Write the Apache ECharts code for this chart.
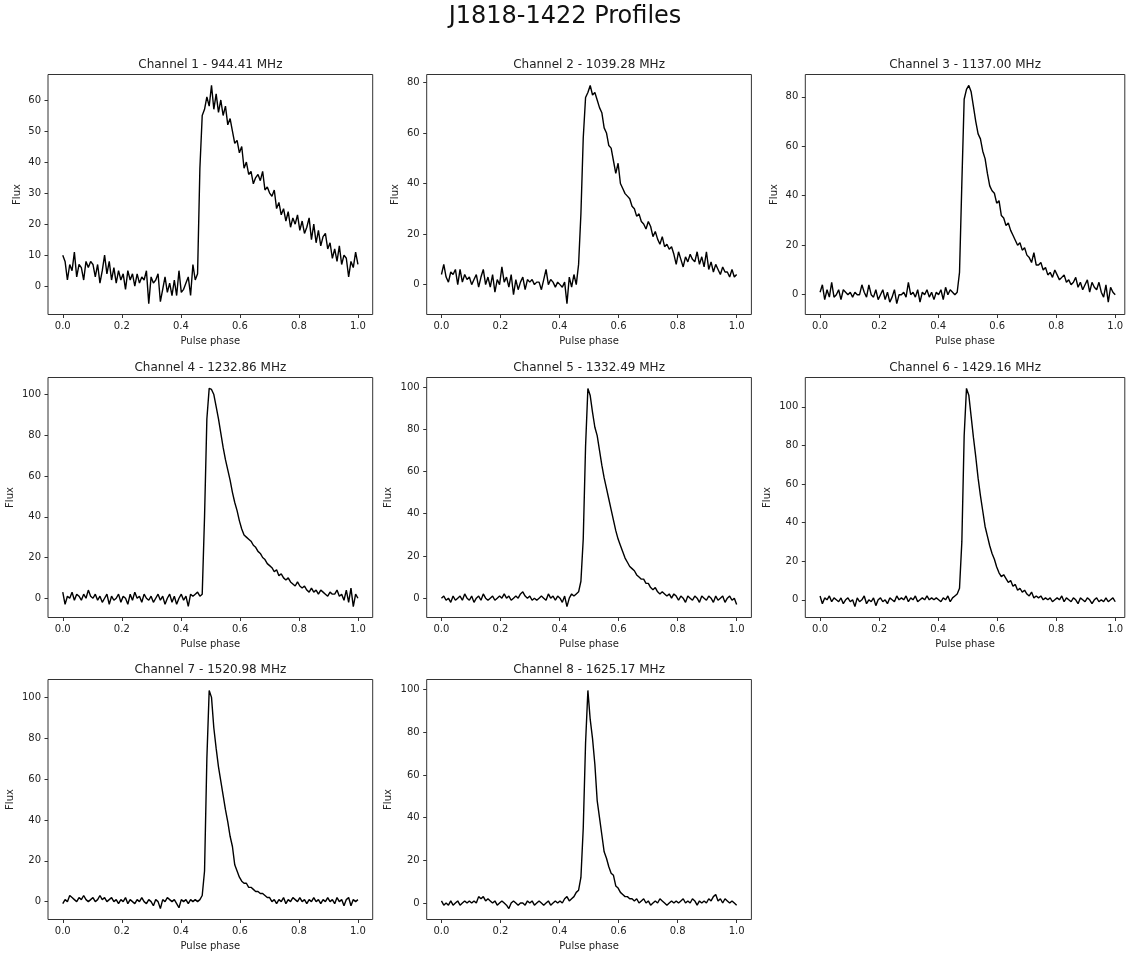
<!DOCTYPE html>
<html>
<head>
<meta charset="utf-8">
<title>J1818-1422 Profiles</title>
<script src="https://cdn.jsdelivr.net/npm/echarts@6/dist/echarts.min.js"></script>
<style>
    html, body { margin: 0; padding: 0; background: #fff; }
    #main { width: 1126px; height: 956px; }
</style>
</head>
<body>
<div id="main"></div>
<script>
// 通道标题
var channelNames = [
    "Channel 1 - 944.41 MHz",
    "Channel 2 - 1039.28 MHz",
    "Channel 3 - 1137.00 MHz",
    "Channel 4 - 1232.86 MHz",
    "Channel 5 - 1332.49 MHz",
    "Channel 6 - 1429.16 MHz",
    "Channel 7 - 1520.98 MHz",
    "Channel 8 - 1625.17 MHz"
];

// 每个通道 128 个相位 bin 的流量 (从图上读的)
var flux1 = [
    10, 8, 2, 7, 5, 11, 3, 7, 6, 2,
    8, 6, 8, 7, 3, 7, 1, 5, 10, 4,
    8, 2, 6, 1, 5, 2, 4, -1, 5, 2,
    4, 0, 4, 1, 3, 2, 5, -5.6, 3, 1,
    2, 4, -5, -1, 3, -2, 1, -3, 2, -3,
    5, -2, -1, 1, 3, -3, 7, 2, 4, 38,
    55, 57, 61, 58, 64.7, 57, 62, 56, 60, 55,
    58, 52, 54, 50, 46, 47, 43, 45, 38, 40,
    36, 37, 33, 35, 36, 34, 37, 31, 32, 30,
    29, 31, 25, 27, 23, 25, 21, 24, 19, 22,
    20, 23, 18, 21, 17, 19, 22, 15, 20, 14,
    18, 13, 16, 17, 12, 14, 9, 12, 8, 13,
    7, 10, 9, 3, 8, 6, 11, 7
];
var flux2 = [
    4, 8, 3, 1, 5, 4, 6, 0, 6, 1,
    4, 2, 3, 0, 2, 4, -1, 3, 6, 0,
    3, -1, 4, -3, 2, 0, 7, 1, 3, -1,
    4, -4, 2, -2, 1, 3, -2, 2, 1, 2,
    0, 1, 1, -2, 2, 6, 0, 2, 1, -1,
    1, 0, -1, 1, -7.5, 3, -1, 4, 0, 8,
    28, 58, 74, 76, 78.8, 75, 76, 73, 70, 68,
    62, 60, 55, 54, 49, 44, 48, 40, 38, 36,
    35, 34, 31, 30, 27, 28, 25, 24, 22, 25,
    23, 19, 21, 18, 16, 19, 15, 16, 14, 15,
    12, 8, 13, 10, 7, 11, 9, 12, 10, 9,
    13, 8, 11, 7, 13, 6, 9, 5, 8, 6,
    4, 7, 5, 5, 3, 6, 3, 4
];
var flux3 = [
    1, 4, -2, 2, -1, 5, -1, 0, 2, -2,
    2, 1, 0, 1, -1, 1, 0, 0, 4, 1,
    -1, 4, 0, -1, 2, -2, 0, 2, -2, 1,
    -3, -1, 2, -3.6, 0, 0, 1, -1, 5, 0,
    1, -1, 2, -3, 1, 0, 2, -1, 1, -2,
    1, 0, 2, -2, 3, 0, 2, 1, 0, 1,
    9, 45, 79, 83, 84.6, 82, 76, 70, 65, 63,
    58, 55, 49, 44, 42, 41, 37, 38, 32, 31,
    28, 29, 26, 24, 22, 20, 21, 18, 19, 16,
    15, 13, 17, 12, 12, 13, 10, 11, 8, 9,
    7, 10, 8, 6, 7, 8, 5, 6, 4, 5,
    7, 3, 5, 2, 4, 6, 1, 5, 3, 2,
    5, 1, -1, 4, -3, 3, 1, 0
];
var flux4 = [
    3, -3, 1, 0, 3, -1, 2, 1, -1, 2,
    0, 4, 1, 0, 2, -1, 1, -2, 0, 2,
    -3, 1, -1, 0, 2, -2, 1, 0, -3, 2,
    -1, 3, 0, 1, -2, 2, 0, -1, 1, -2,
    0, 2, -1, 1, -3, 0, 2, -2, 1, -3,
    0, 2, -1, 1, -4, 2, 1, 2, 3, 1,
    2, 40, 88, 103, 102.5, 100, 94, 88, 81, 74,
    68, 63, 58, 52, 47, 43, 38, 34, 31, 30,
    29, 28, 26, 25, 23, 22, 20, 19, 17, 16,
    15, 13, 14, 11, 12, 10, 9, 10, 8, 7,
    6, 8, 6, 5, 6, 4, 3, 5, 3, 4,
    2, 4, 3, 2, 1, 3, 2, 2, 4, 1,
    2, -1, 4, -2, 5, -4.1, 2, 0
];
var flux5 = [
    0, 1, -1, 0, -2, 1, -1, 0, 1, -1,
    2, 0, -1, 1, -2, 0, 1, -1, 2, 0,
    -1, 0, 1, -1, 0, 1, 0, 2, 0, 1,
    -1, 0, 1, 0, 2, 3, 1, 0, 1, -1,
    0, -1, 0, 1, 0, -1, 2, 0, 1, -1,
    1, 0, -2, 1, -4, 0, 2, 1, 2, 3,
    8, 28, 72, 99.4, 96, 88, 81, 77, 70, 63,
    57, 52, 47, 42, 37, 32, 28, 25, 22, 19,
    17, 15, 14, 13, 11, 10, 9, 9, 7, 7,
    5, 4, 5, 3, 2, 3, 2, 1, 2, 0,
    2, 1, -1, 1, 0, -2, 1, 0, -1, 1,
    0, -2, 1, 0, -1, 1, 0, -2, 1, -1,
    0, 1, -2, 0, 1, -1, 0, -3
];
var flux6 = [
    2, -2, 1, 0, 2, -1, 1, 0, -1, 1,
    -2, 0, 1, -1, 0, -3.5, 1, -1, 0, 2,
    -2, 0, -1, 1, -3, 0, 1, -1, 0, -2,
    1, 0, -1, 2, 0, 1, 0, 2, -1, 1,
    0, 2, -1, 0, 1, 0, 2, 0, 1, 0,
    1, 0, -1, 1, 0, 2, -1, 1, 2, 3,
    6, 30, 85, 109.5, 106, 95, 84, 74, 63, 54,
    46, 38, 33, 28, 24, 21, 17, 14, 12, 13,
    11, 9, 10, 7, 8, 5, 6, 4, 5, 3,
    2, 4, 1, 2, 1, 2, 0, 1, 0, 1,
    -1, 0, 1, 0, 2, -1, 1, 0, -1, 1,
    0, -2, 1, 0, -1, 1, 0, -2, 0, 1,
    -1, 0, -1, 1, -1, 0, 1, -1
];
var flux7 = [
    -1, 1, 0, 3, 2, 1, 0, 2, 1, 3,
    1, 0, 1, 2, 0, 1, 3, 1, 2, 0,
    1, 2, 0, 1, -1, 1, 0, 2, -1, 1,
    0, -1, 1, 0, 2, 0, -1, 1, 0, -2,
    1, 0, -3.4, 1, 0, 2, 1, 0, 1, -1,
    -3, 1, 0, 1, -1, 1, 0, 1, 0, 1,
    3, 15, 70, 103.4, 100, 85, 75, 66, 59, 52,
    45, 39, 32, 27, 18, 15, 12, 10, 9, 9,
    7, 7, 6, 5, 5, 4, 4, 3, 2, 2,
    0, 1, -1, 1, 0, 2, -1, 1, 0, 2,
    1, 0, 2, 0, 1, -1, 1, 0, 2, 0,
    1, -1, 1, 0, 2, 0, 1, -1, 2, 0,
    1, -2, 1, 2, -2, 1, 0, 1
];
var flux8 = [
    1, -1, 0, -1, 1, -1, 0, 1, -1, 0,
    1, 0, 1, 0, 1, 0, 3, 2, 3, 1,
    2, 1, 0, 1, -1, 0, 1, 0, -1, -2.6,
    0, 1, 0, -1, 0, 0, -1, 1, 0, 1,
    -1, 0, 1, 0, -1, 0, 1, -1, 0, 1,
    0, 1, 0, 2, 3, 1, 2, 3, 5, 6,
    12, 35, 75, 99.6, 86, 77, 65, 48, 40, 32,
    24, 21, 17, 14, 13, 8, 7, 5, 4, 3,
    3, 2, 2, 1, 2, 0, 1, 2, 0, 1,
    -1, 0, 1, 0, 2, 1, 0, -1, 0, 1,
    0, 1, 0, 1, 2, 0, 1, 0, 2, 1,
    -1, 1, 0, 1, 0, 2, 1, 3, 4, 1,
    2, 0, 2, 1, 0, 1, 0, -1
];
var fluxList = [flux1, flux2, flux3, flux4, flux5, flux6, flux7, flux8];

// 刻度
var xTicks = [0, 0.2, 0.4, 0.6, 0.8, 1.0];
var yTicks = [
    [0, 10, 20, 30, 40, 50, 60],
    [0, 20, 40, 60, 80],
    [0, 20, 40, 60, 80],
    [0, 20, 40, 60, 80, 100],
    [0, 20, 40, 60, 80, 100],
    [0, 20, 40, 60, 80, 100],
    [0, 20, 40, 60, 80, 100],
    [0, 20, 40, 60, 80, 100]
];

(function () {
    var myChart = echarts.init(document.getElementById("main"));

    var font = "DejaVu Sans";
    var textColor = "#222";
    var lineColor = "#333";

    // 子图位置 (3 列 x 3 行)
    var colLeft = [48, 426.7, 805.3];
    var colWidth = [324.7, 324.7, 319.5];
    var rowTop = [74.5, 377.5, 679.5];
    var boxH = 240;
    // x 方向 1 个相位单位的像素 (范围 -0.05 ~ 1.05)
    var unitPx = 324.7 / 1.1;

    var option = {
        animation: false,
        backgroundColor: "#fff",
        title: [{
            text: "J1818-1422 Profiles",
            left: 565,
            top: 5,
            textAlign: "center",
            textVerticalAlign: "top",
            padding: 0,
            textStyle: { fontFamily: font, fontSize: 24, fontWeight: "normal", color: "#111" }
        }],
        grid: [],
        xAxis: [],
        yAxis: [],
        series: []
    };

    fluxList.forEach(function (flux, i) {
        var r = Math.floor(i / 3);
        var c = i % 3;
        var left = colLeft[c];
        var top = rowTop[r];

        // matplotlib 默认留 5% 边距
        var lo = Math.min.apply(null, flux);
        var hi = Math.max.apply(null, flux);
        var pad = (hi - lo) * 0.05;
        var yMin = lo - pad;
        var yMax = hi + pad;

        var ticks = yTicks[i];
        var wide = ticks[ticks.length - 1] >= 100;
        var bins = flux.map(function (v, k) { return k; });

        option.title.push({
            text: channelNames[i],
            left: left + colWidth[c] / 2,
            top: top - 16,
            textAlign: "center",
            textVerticalAlign: "top",
            padding: 0,
            textStyle: { fontFamily: font, fontSize: 12, fontWeight: "normal", color: textColor }
        });

        // 外框 + 可见坐标轴
        option.grid.push({
            left: left, top: top, width: colWidth[c], height: boxH,
            containLabel: false, outerBoundsMode: "none",
            show: true, borderColor: lineColor, borderWidth: 1, backgroundColor: "transparent"
        });
        // 曲线所在的内层 grid (去掉左右 5% 边距)
        option.grid.push({
            left: left + 0.05 * unitPx, top: top, width: unitPx, height: boxH,
            containLabel: false, outerBoundsMode: "none", show: false
        });

        option.xAxis.push({
            type: "value",
            gridIndex: 2 * i,
            min: -0.05,
            max: -0.05 + colWidth[c] / unitPx,
            axisLine: { show: false, onZero: false },
            axisTick: { show: true, length: 3.5, customValues: xTicks, lineStyle: { color: lineColor, width: 1 } },
            axisLabel: {
                show: true,
                customValues: xTicks,
                margin: 7,
                fontSize: 10,
                fontFamily: font,
                color: textColor,
                formatter: function (v) { return v.toFixed(1); }
            },
            splitLine: { show: false },
            name: "Pulse phase",
            nameLocation: "middle",
            nameGap: 22,
            nameTextStyle: { fontFamily: font, fontSize: 10, color: textColor }
        });
        option.xAxis.push({
            type: "category",
            gridIndex: 2 * i + 1,
            data: bins,
            boundaryGap: false,
            show: false
        });

        option.yAxis.push({
            type: "value",
            gridIndex: 2 * i,
            min: yMin,
            max: yMax,
            axisLine: { show: false, onZero: false },
            axisTick: { show: true, length: 3.5, customValues: ticks, lineStyle: { color: lineColor, width: 1 } },
            axisLabel: {
                show: true,
                customValues: ticks,
                margin: 7,
                fontSize: 10,
                fontFamily: font,
                color: textColor
            },
            splitLine: { show: false },
            name: "Flux",
            nameLocation: "middle",
            nameRotate: 90,
            nameGap: wide ? 33 : 26,
            nameTextStyle: { fontFamily: font, fontSize: 10, color: textColor }
        });
        option.yAxis.push({
            type: "value",
            gridIndex: 2 * i + 1,
            min: yMin,
            max: yMax,
            show: false
        });

        option.series.push({
            name: channelNames[i],
            type: "line",
            xAxisIndex: 2 * i + 1,
            yAxisIndex: 2 * i + 1,
            data: flux,
            symbol: "none",
            showSymbol: false,
            silent: true,
            lineStyle: { color: "#000", width: 1.4 }
        });
    });

    myChart.setOption(option);
})();
</script>
</body>
</html>
